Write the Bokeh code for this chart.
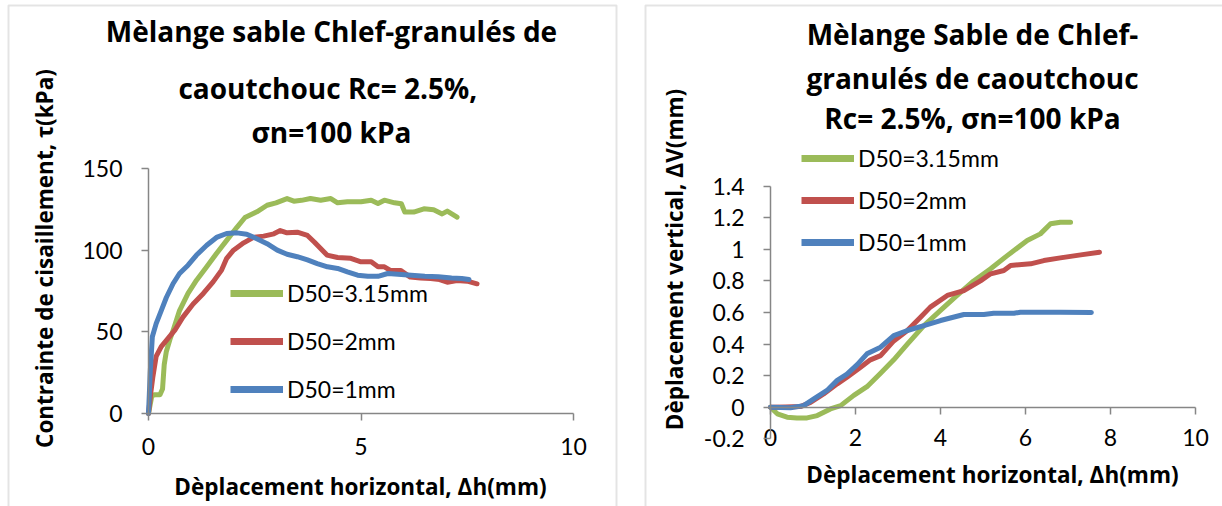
from bokeh.plotting import figure
from bokeh.layouts import row
from bokeh.models import (Range1d, FixedTicker, Legend, LegendItem, Label, LinearAxis,
                          BoxAnnotation, CustomJSTickFormatter)
from bokeh.embed import file_html
from bokeh.resources import INLINE

# ---------------------------------------------------------------- data
series_names = ["D50=3.15mm", "D50=2mm", "D50=1mm"]
series_colors = ["#9BBB59", "#C0504D", "#4F81BD"]

# shear stress tau (kPa) against horizontal displacement dh (mm)
shear_dh_315 = [0, 0.08, 0.15, 0.27, 0.33, 0.37, 0.42, 0.50, 0.58, 0.73, 0.93, 1.13,
                1.37, 1.60, 1.84, 2.08, 2.27, 2.55, 2.79, 3.00, 3.26, 3.42, 3.60, 3.81,
                4.05, 4.29, 4.45, 4.68, 5.00, 5.24, 5.40, 5.55, 5.79, 5.95, 6.03, 6.24,
                6.48, 6.71, 6.91, 7.03, 7.26]
shear_tau_315 = [0, 11, 11.5, 11.5, 15, 30, 38, 45, 51, 63, 73.5, 81.6,
                 89.8, 98, 106, 114, 120, 123.5, 127.5, 129, 131.6, 130, 130.5, 131.6,
                 130.6, 131.6, 129, 129.6, 129.6, 130.6, 128.6, 130.6, 129, 128.4, 123.3, 123.3,
                 125.3, 124.7, 122.2, 123.9, 120.2]

shear_dh_2 = [0, 0.05, 0.10, 0.18, 0.30, 0.46, 0.62, 0.81, 1.05, 1.29, 1.52, 1.72,
              1.84, 2.00, 2.24, 2.47, 2.71, 2.95, 3.10, 3.26, 3.50, 3.74, 3.90, 4.05,
              4.20, 4.45, 4.76, 5.00, 5.24, 5.40, 5.55, 5.69, 5.93, 6.16, 6.40, 6.64,
              6.85, 7.03, 7.26, 7.50, 7.73]
shear_tau_2 = [0, 12, 22, 35, 41, 46, 51, 59, 67, 73.5, 80.6, 87.8,
               95, 100, 104.5, 107.8, 108.6, 110, 112, 110.6, 111, 109, 105, 101,
               97, 95.5, 95, 92.9, 92.9, 89.8, 89.8, 87.6, 87.6, 83.5, 83, 82.6,
               82, 80.4, 81.4, 81, 79.4]

shear_dh_1 = [0, 0.02, 0.04, 0.09, 0.18, 0.30, 0.42, 0.58, 0.73, 0.93, 1.13, 1.37,
              1.60, 1.84, 2.08, 2.31, 2.55, 2.79, 3.03, 3.26, 3.50, 3.74, 3.97, 4.21,
              4.45, 4.68, 4.92, 5.16, 5.40, 5.63, 5.87, 6.18, 6.50, 6.82, 7.13, 7.37, 7.54]
shear_tau_1 = [0, 12, 25, 47, 55, 63, 71, 79.6, 85.7, 90.8, 97, 103,
               107.8, 110.2, 110.6, 109.8, 107, 104, 100, 97.5, 96, 94, 91.8, 89.8,
               88.8, 86.7, 84.7, 84, 84, 85.7, 85.3, 84.7, 84, 83.7, 83, 82.7, 82]

# vertical displacement dV (mm) against horizontal displacement dh (mm)
vert_dh_315 = [0, 0.16, 0.39, 0.62, 0.86, 1.10, 1.41, 1.65, 1.96, 2.27, 2.59, 2.90,
               3.22, 3.61, 4.00, 4.39, 4.78, 5.18, 5.57, 6.04, 6.35, 6.59, 6.82, 7.06]
vert_dv_315 = [0, -0.042, -0.063, -0.068, -0.068, -0.053, -0.011, 0.01, 0.075, 0.13, 0.215, 0.30,
               0.40, 0.517, 0.613, 0.708, 0.80, 0.877, 0.96, 1.056, 1.098, 1.162, 1.172, 1.172]

vert_dh_2 = [0, 0.35, 0.70, 0.94, 1.25, 1.57, 1.80, 2.12, 2.35, 2.59, 2.90, 3.22,
             3.53, 3.76, 4.16, 4.55, 4.94, 5.18, 5.49, 5.65, 6.12, 6.43, 6.82, 7.30, 7.74]
vert_dv_2 = [0, 0.002, 0.004, 0.03, 0.084, 0.148, 0.19, 0.253, 0.30, 0.327, 0.42, 0.486,
             0.57, 0.634, 0.708, 0.739, 0.80, 0.845, 0.866, 0.898, 0.908, 0.929, 0.946, 0.965, 0.982]

vert_dh_1 = [0, 0.47, 0.78, 1.02, 1.33, 1.57, 1.80, 2.04, 2.27, 2.59, 2.90, 3.22,
             3.61, 4.00, 4.55, 5.02, 5.25, 5.73, 5.88, 6.82, 7.55]
vert_dv_1 = [0, -0.004, 0.01, 0.053, 0.106, 0.17, 0.21, 0.27, 0.338, 0.38, 0.454, 0.486,
             0.517, 0.549, 0.587, 0.587, 0.595, 0.595, 0.602, 0.602, 0.60]

shear_x_ticks = [0, 5, 10]
shear_y_ticks = [0, 50, 100, 150]
vert_x_ticks = [0, 2, 4, 6, 8, 10]
vert_y_ticks = [-0.2, 0, 0.2, 0.4, 0.6, 0.8, 1, 1.2, 1.4]

# ---------------------------------------------------------------- style
FONT = "Lato"
TITLE_FONT = "Open Sans"
AXIS_GREY = "#868686"
BOX_GREY = "#a6a6a6"
LINE_W = 5
H = 506  # canvas height of each panel


def canvas_range(v0, p0, v1, p1, lo_px, hi_px):
    """Range whose ends sit at pixels lo_px / hi_px, given two value->pixel anchors."""
    k = (v1 - v0) / (p1 - p0)
    return Range1d(v0 + (lo_px - p0) * k, v0 + (hi_px - p0) * k)


def make_panel(width, xr, yr):
    p = figure(width=width, height=H, x_range=xr, y_range=yr,
               output_backend="svg", toolbar_location=None,
               x_axis_location=None, y_axis_location=None,
               min_border_left=0, min_border_right=0,
               min_border_top=0, min_border_bottom=0)
    p.outline_line_color = None
    p.grid.visible = False
    p.background_fill_color = "white"
    p.border_fill_color = "white"
    return p


def style_axis(ax):
    ax.axis_line_color = AXIS_GREY
    ax.axis_line_width = 1.5
    ax.major_tick_line_color = AXIS_GREY
    ax.major_tick_line_width = 1.5
    ax.major_tick_in = 0
    ax.major_tick_out = 7
    ax.minor_tick_line_color = None
    ax.major_label_text_font = FONT
    ax.major_label_text_font_size = "23px"
    ax.major_label_text_color = "black"
    ax.major_label_standoff = 19
    return ax


def text(p, x, y_top, s, size, angle=0.0):
    # bold heading centred on (x, y_top), y_top counted down from the top of the panel
    p.add_layout(Label(x=x, y=H - y_top, x_units="screen", y_units="screen", text=s,
                       text_font=TITLE_FONT, text_font_size=size,
                       text_font_style="bold",
                       text_align="center", text_baseline="middle",
                       angle=angle, text_color="black"))


def add_legend(p, samples, x, y, spacing):
    items = [LegendItem(label=name, renderers=[r]) for name, r in zip(series_names, samples)]
    lg = Legend(items=items, location=(x, y), orientation="vertical",
                glyph_width=53, glyph_height=30, label_height=30, label_standoff=4,
                spacing=spacing, padding=0, margin=0,
                border_line_alpha=0, background_fill_alpha=0,
                inactive_fill_alpha=0,
                label_text_font=FONT, label_text_font_size="23px",
                label_text_color="black")
    p.add_layout(lg)


def draw_series(p, xs_list, ys_list):
    samples = []
    for xs, ys, color in zip(xs_list, ys_list, series_colors):
        p.line(xs, ys, line_color=color, line_width=LINE_W,
               line_join="round", line_cap="round")
        # thicker twin used only as the legend key
        samples.append(p.line(xs, ys, line_color=color, line_width=7, visible=False))
    return samples


def panel_box(p, left, right, top, bottom):
    p.add_layout(BoxAnnotation(left=left, right=right, top=top, bottom=bottom,
                               left_units="screen", right_units="screen",
                               top_units="screen", bottom_units="screen",
                               fill_alpha=0, line_color=BOX_GREY, line_width=2))


# ---------------------------------------------------------------- shear stress chart
W1 = 620
p1 = make_panel(W1,
                canvas_range(0, 148, 10, 573, 0, W1),
                canvas_range(0, 413, 150, 168, H, 0))
panel_box(p1, 8, 616, H - 5, -10)

xa1 = style_axis(LinearAxis(fixed_location=0, bounds=(0, 10),
                            ticker=FixedTicker(ticks=shear_x_ticks)))
xa1.major_label_standoff = 17
ya1 = style_axis(LinearAxis(fixed_location=0, bounds=(0, 150),
                            ticker=FixedTicker(ticks=shear_y_ticks)))
p1.add_layout(xa1, "below")
p1.add_layout(ya1, "left")

samples1 = draw_series(p1, [shear_dh_315, shear_dh_2, shear_dh_1],
                       [shear_tau_315, shear_tau_2, shear_tau_1])
add_legend(p1, samples1, 230, H - 404, 18)

text(p1, 331, 30, "Mèlange sable Chlef-granulés de", "28px")
text(p1, 331, 87, "caoutchouc  Rc= 2.5%,", "28px")
text(p1, 331, 131, "σn=100 kPa", "28px")
text(p1, 360, 486, "Dèplacement horizontal, Δh(mm)", "22.5px")
text(p1, 44, 258, "Contrainte de cisaillement, τ(kPa)", "22.5px", angle=1.5707963)

# ---------------------------------------------------------------- vertical displacement chart
W2 = 602
p2 = make_panel(W2,
                canvas_range(0, 150, 10, 575, 0, W2),
                canvas_range(0, 406.7, 1.4, 185.7, H, 0))
panel_box(p2, 25, W2 + 50, H - 5, -10)

xa2 = style_axis(LinearAxis(fixed_location=0, bounds=(0, 10),
                            ticker=FixedTicker(ticks=vert_x_ticks)))
xa2.major_label_standoff = 15
ya2 = style_axis(LinearAxis(fixed_location=0, bounds=(-0.2, 1.4),
                            ticker=FixedTicker(ticks=vert_y_ticks),
                            formatter=CustomJSTickFormatter(
                                code="return String(Math.round(tick * 10) / 10);")))
p2.add_layout(xa2, "below")
p2.add_layout(ya2, "left")

samples2 = draw_series(p2, [vert_dh_315, vert_dh_2, vert_dh_1],
                       [vert_dv_315, vert_dv_2, vert_dv_1])
add_legend(p2, samples2, 181, H - 257, 12)

text(p2, 352, 33, "Mèlange Sable de Chlef-", "28px")
text(p2, 352, 77, "granulés de caoutchouc", "28px")
text(p2, 352, 117, "Rc= 2.5%, σn=100 kPa", "28px")
text(p2, 372, 474, "Dèplacement horizontal, Δh(mm)", "22.5px")
text(p2, 54, 259, "Dèplacement vertical, ΔV(mm)", "22.5px", angle=1.5707963)

layout = row(p1, p2, spacing=0)
open("out.html", "w").write(file_html(layout, INLINE))
